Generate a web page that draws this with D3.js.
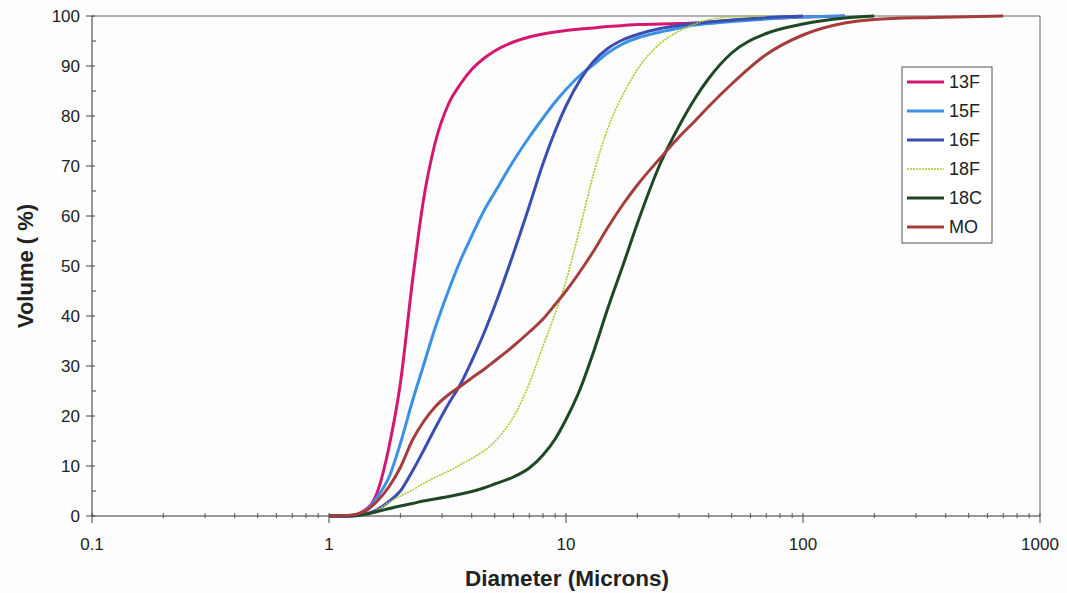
<!DOCTYPE html>
<html>
<head>
<meta charset="utf-8">
<script src="https://cdn.jsdelivr.net/npm/d3@7"></script>
<style>
  body { margin: 0; background: #fdfdfd; }
  svg { display: block; font-family: Arial, "Liberation Sans", sans-serif; }
</style>
</head>
<body>
<div id="chart"></div>
<script>
// particle diameters (microns) where the curves were read
const sizes = [1, 1.2, 1.4, 1.6, 1.8, 2, 2.25, 2.5, 2.8, 3.2, 3.6, 4, 4.5, 5, 6, 7, 8, 9, 10,
  11.5, 13, 15, 17.5, 20, 25, 30, 35, 40, 50, 70, 100, 150, 200, 350, 700];

// cumulative volume (%) per sample, null = past the end of the curve
const v13F = [0, 0, 1, 4.8, 14.3, 26.5, 47, 63, 74.5, 82.5, 86.5, 89.3, 91.5, 93, 94.8, 95.8, 96.4, 96.8, 97.1,
  97.4, 97.6, 97.9, 98.1, 98.3, 98.4, 98.5, 98.6, 98.8, 99.1, 99.5, 99.8, 100, null, null, null];
const v15F = [0, 0, 0.8, 3.8, 8, 14.5, 23, 30, 37.5, 45.2, 51.3, 56, 61, 64.7, 71, 75.8, 79.6, 82.8, 85.3,
  88.2, 90.2, 92.6, 94.5, 95.6, 96.8, 97.6, 98.2, 98.5, 98.9, 99.4, 99.8, 100, null, null, null];
const v16F = [0, 0, 0.3, 1.3, 3, 5, 9, 13, 17.5, 22.5, 26.5, 31, 36.5, 42, 52.5, 62, 70.5, 77, 82,
  87.3, 90.8, 93.5, 95.3, 96.3, 97.5, 98.1, 98.5, 98.8, 99.2, 99.7, 100, null, null, null, null];
const v18F = [0, 0, 0.2, 1.2, 2.8, 4, 5.2, 6.5, 7.7, 9, 10.3, 11.5, 13, 14.9, 19.8, 26.5, 34, 40.5, 47,
  58, 68, 77.5, 84.5, 89.3, 94.5, 97, 98.4, 99.3, 99.8, 100, null, null, null, null, null];
const v18C = [0, 0, 0.3, 0.9, 1.5, 2, 2.5, 3, 3.4, 3.9, 4.4, 4.9, 5.6, 6.4, 7.8, 9.6, 12.2, 15.4, 19.3,
  25.5, 32.5, 41.5, 50.5, 58.5, 70.5, 78, 83.5, 87.5, 92.6, 96.5, 98.4, 99.6, 100, null, null];
const vMO = [0, 0.1, 0.8, 3, 6, 9.7, 15.2, 18.8, 21.8, 24.3, 26, 27.6, 29.3, 31, 34, 36.8, 39.4, 42.3, 45,
  49, 52.8, 57.7, 62.5, 66.2, 71.6, 75.8, 79, 81.9, 86.4, 92.3, 96.2, 98.6, 99.3, 99.7, 100];

const seriesNames = ["13F", "15F", "16F", "18F", "18C", "MO"];
const seriesValues = [v13F, v15F, v16F, v18F, v18C, vMO];
const seriesColors = ["#d5186f", "#3a91e6", "#3b4db3", "#a6cc2f", "#1e4825", "#a63d3c"];

const xTicks = [0.1, 1, 10, 100, 1000];
const yTicks = [0, 10, 20, 30, 40, 50, 60, 70, 80, 90, 100];

const width = 1067, height = 593;
const plotLeft = 92, plotRight = 1040, plotTop = 16, plotBottom = 516;

const svg = d3.select("#chart").append("svg")
  .attr("width", width)
  .attr("height", height);

const x = d3.scaleLog().domain([0.1, 1000]).range([plotLeft, plotRight]);
const y = d3.scaleLinear().domain([0, 100]).range([plotBottom, plotTop]);

// frame (top and right)
svg.append("path")
  .attr("d", `M${plotLeft},${plotTop}H${plotRight}V${plotBottom}`)
  .attr("fill", "none")
  .attr("stroke", "#666")
  .attr("stroke-width", 1);

// y axis
const yAxis = svg.append("g").attr("transform", `translate(${plotLeft},0)`);
yAxis.append("line").attr("y1", plotTop).attr("y2", plotBottom).attr("stroke", "#333");
yAxis.selectAll(".minor").data(d3.range(5, 100, 10)).join("line")
  .attr("class", "minor")
  .attr("x1", 0).attr("x2", 4)
  .attr("y1", d => y(d)).attr("y2", d => y(d))
  .attr("stroke", "#444");
yAxis.selectAll(".major").data(yTicks).join("line")
  .attr("class", "major")
  .attr("x1", -6).attr("x2", 3)
  .attr("y1", d => y(d)).attr("y2", d => y(d))
  .attr("stroke", "#444");
yAxis.selectAll("text").data(yTicks).join("text")
  .attr("x", -12).attr("y", d => y(d))
  .attr("dy", "0.36em")
  .attr("text-anchor", "end")
  .attr("font-size", 17)
  .attr("fill", "#222")
  .text(d => d);

// x axis
const xAxis = svg.append("g").attr("transform", `translate(0,${plotBottom})`);
xAxis.append("line").attr("x1", plotLeft).attr("x2", plotRight).attr("stroke", "#333");
const minor = [];
for (let e = -1; e < 3; e++) for (let m = 2; m < 10; m++) minor.push(m * Math.pow(10, e));
xAxis.selectAll(".minor").data(minor).join("line")
  .attr("class", "minor")
  .attr("x1", d => x(d)).attr("x2", d => x(d))
  .attr("y1", -3).attr("y2", 2)
  .attr("stroke", "#555");
xAxis.selectAll(".major").data(xTicks).join("line")
  .attr("class", "major")
  .attr("x1", d => x(d)).attr("x2", d => x(d))
  .attr("y1", -3).attr("y2", 7)
  .attr("stroke", "#444");
xAxis.selectAll("text").data(xTicks).join("text")
  .attr("x", d => x(d)).attr("y", 34)
  .attr("text-anchor", "middle")
  .attr("font-size", 17)
  .attr("fill", "#222")
  .text(d => d);

// axis titles
svg.append("text")
  .attr("x", 567).attr("y", 586)
  .attr("text-anchor", "middle")
  .attr("font-size", 22.5).attr("font-weight", "bold")
  .attr("fill", "#222")
  .text("Diameter (Microns)");
svg.append("text")
  .attr("transform", "translate(33,266) rotate(-90)")
  .attr("text-anchor", "middle")
  .attr("font-size", 22).attr("font-weight", "bold")
  .attr("fill", "#222")
  .text("Volume ( %)");

// curves
const line = d3.line()
  .defined(d => d[1] != null)
  .x(d => x(d[0]))
  .y(d => y(d[1]))
  .curve(d3.curveMonotoneX);

seriesValues.forEach((vals, i) => {
  const pts = sizes.map((s, j) => [s, vals[j]]);
  svg.append("path")
    .datum(pts)
    .attr("fill", "none")
    .attr("stroke", seriesColors[i])
    .attr("stroke-width", seriesNames[i] === "18F" ? 1.6 : 3)
    .attr("stroke-dasharray", seriesNames[i] === "18F" ? "2,1" : null)
    .attr("stroke-linejoin", "round")
    .attr("d", line);
});

// legend
const legend = svg.append("g");
legend.append("rect")
  .attr("x", 902).attr("y", 67)
  .attr("width", 90).attr("height", 176)
  .attr("fill", "#fff")
  .attr("stroke", "#555");
const rows = legend.selectAll("g.row").data(seriesNames).join("g")
  .attr("class", "row")
  .attr("transform", (d, i) => `translate(0,${82 + i * 29})`);
rows.append("line")
  .attr("x1", 907).attr("x2", 944)
  .attr("stroke", (d, i) => seriesColors[i])
  .attr("stroke-width", d => d === "18F" ? 1.6 : 3)
  .attr("stroke-dasharray", d => d === "18F" ? "2,1" : null);
rows.append("text")
  .attr("x", 949).attr("dy", "0.36em")
  .attr("font-size", 18)
  .attr("fill", "#222")
  .text(d => d);
</script>
</body>
</html>
